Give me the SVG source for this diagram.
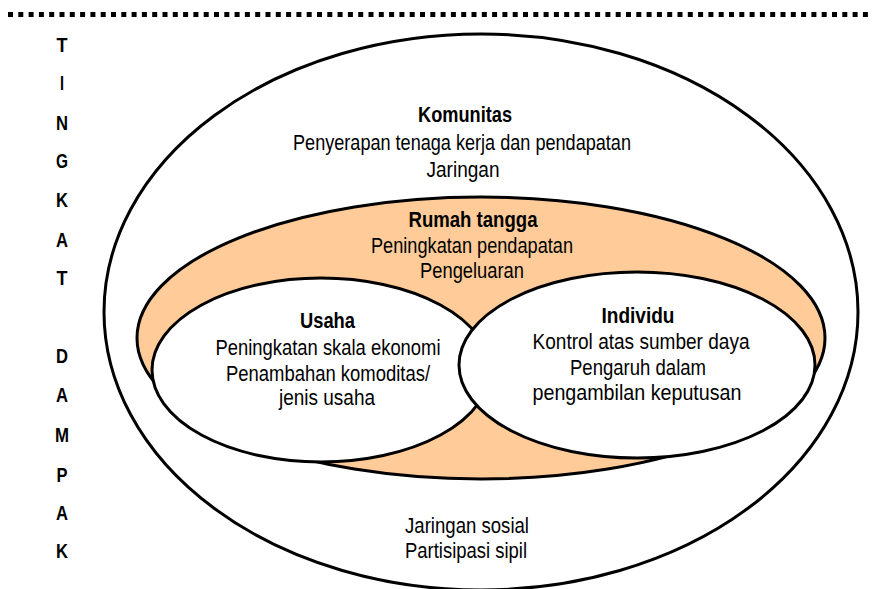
<svg xmlns="http://www.w3.org/2000/svg" width="872" height="589" viewBox="0 0 872 589">
<style>
.t{font-family:"Liberation Sans Narrow","Liberation Sans",Arial,sans-serif;font-size:21.5px;fill:#000;text-anchor:middle;}
.b{font-weight:bold;}
.s{font-family:"Liberation Sans Narrow","Liberation Sans",Arial,sans-serif;font-size:21px;font-weight:bold;text-anchor:middle;}
.e{stroke:#000;stroke-width:3;}
</style>
<rect width="872" height="589" fill="#fff"/>
<line x1="8" y1="14.5" x2="870" y2="14.5" stroke="#000" stroke-width="5" stroke-dasharray="5 5.3"/>
<g id="axis-label">
<text class="s" x="62" y="52" textLength="11" lengthAdjust="spacingAndGlyphs">T</text>
<text class="s" x="62" y="90" textLength="4" lengthAdjust="spacingAndGlyphs">I</text>
<text class="s" x="62" y="130" textLength="12" lengthAdjust="spacingAndGlyphs">N</text>
<text class="s" x="62" y="168" textLength="12" lengthAdjust="spacingAndGlyphs">G</text>
<text class="s" x="62" y="207" textLength="12" lengthAdjust="spacingAndGlyphs">K</text>
<text class="s" x="62" y="247" textLength="12" lengthAdjust="spacingAndGlyphs">A</text>
<text class="s" x="62" y="285" textLength="11" lengthAdjust="spacingAndGlyphs">T</text>
<text class="s" x="62" y="363" textLength="12" lengthAdjust="spacingAndGlyphs">D</text>
<text class="s" x="62" y="402" textLength="12" lengthAdjust="spacingAndGlyphs">A</text>
<text class="s" x="62" y="442" textLength="14" lengthAdjust="spacingAndGlyphs">M</text>
<text class="s" x="62" y="482" textLength="11" lengthAdjust="spacingAndGlyphs">P</text>
<text class="s" x="62" y="520" textLength="12" lengthAdjust="spacingAndGlyphs">A</text>
<text class="s" x="62" y="558" textLength="12" lengthAdjust="spacingAndGlyphs">K</text>
</g>
<g id="komunitas">
<ellipse class="e" cx="481" cy="312" rx="377" ry="278" fill="#fff"/>
<text class="t b" x="465" y="122" textLength="94" lengthAdjust="spacingAndGlyphs">Komunitas</text>
<text class="t" x="462" y="150" textLength="338" lengthAdjust="spacingAndGlyphs">Penyerapan tenaga kerja dan pendapatan</text>
<text class="t" x="463" y="177" textLength="73" lengthAdjust="spacingAndGlyphs">Jaringan</text>
<text class="t" x="467" y="533" textLength="124" lengthAdjust="spacingAndGlyphs">Jaringan sosial</text>
<text class="t" x="466" y="558" textLength="122" lengthAdjust="spacingAndGlyphs">Partisipasi sipil</text>
</g>
<g id="rumah-tangga">
<ellipse class="e" cx="481" cy="338" rx="344" ry="141" fill="#ffcc99"/>
<text class="t b" x="473" y="227" textLength="129" lengthAdjust="spacingAndGlyphs">Rumah tangga</text>
<text class="t" x="472" y="253" textLength="202" lengthAdjust="spacingAndGlyphs">Peningkatan pendapatan</text>
<text class="t" x="472" y="278" textLength="104" lengthAdjust="spacingAndGlyphs">Pengeluaran</text>
</g>
<g id="usaha">
<ellipse class="e" cx="321" cy="370" rx="169" ry="92" fill="#fff"/>
<text class="t b" x="327.5" y="328" textLength="55" lengthAdjust="spacingAndGlyphs">Usaha</text>
<text class="t" x="328" y="355" textLength="225" lengthAdjust="spacingAndGlyphs">Peningkatan skala ekonomi</text>
<text class="t" x="328" y="381" textLength="204" lengthAdjust="spacingAndGlyphs">Penambahan komoditas/</text>
<text class="t" x="327" y="405" textLength="96" lengthAdjust="spacingAndGlyphs">jenis usaha</text>
</g>
<g id="individu">
<ellipse class="e" cx="637" cy="365" rx="178" ry="93" fill="#fff"/>
<text class="t b" x="638" y="323" textLength="73" lengthAdjust="spacingAndGlyphs">Individu</text>
<text class="t" x="641" y="349" textLength="217" lengthAdjust="spacingAndGlyphs">Kontrol atas sumber daya</text>
<text class="t" x="638" y="375" textLength="136" lengthAdjust="spacingAndGlyphs">Pengaruh dalam</text>
<text class="t" x="637" y="400" textLength="209" lengthAdjust="spacingAndGlyphs">pengambilan keputusan</text>
</g>
<g id="connectors"></g>
</svg>
